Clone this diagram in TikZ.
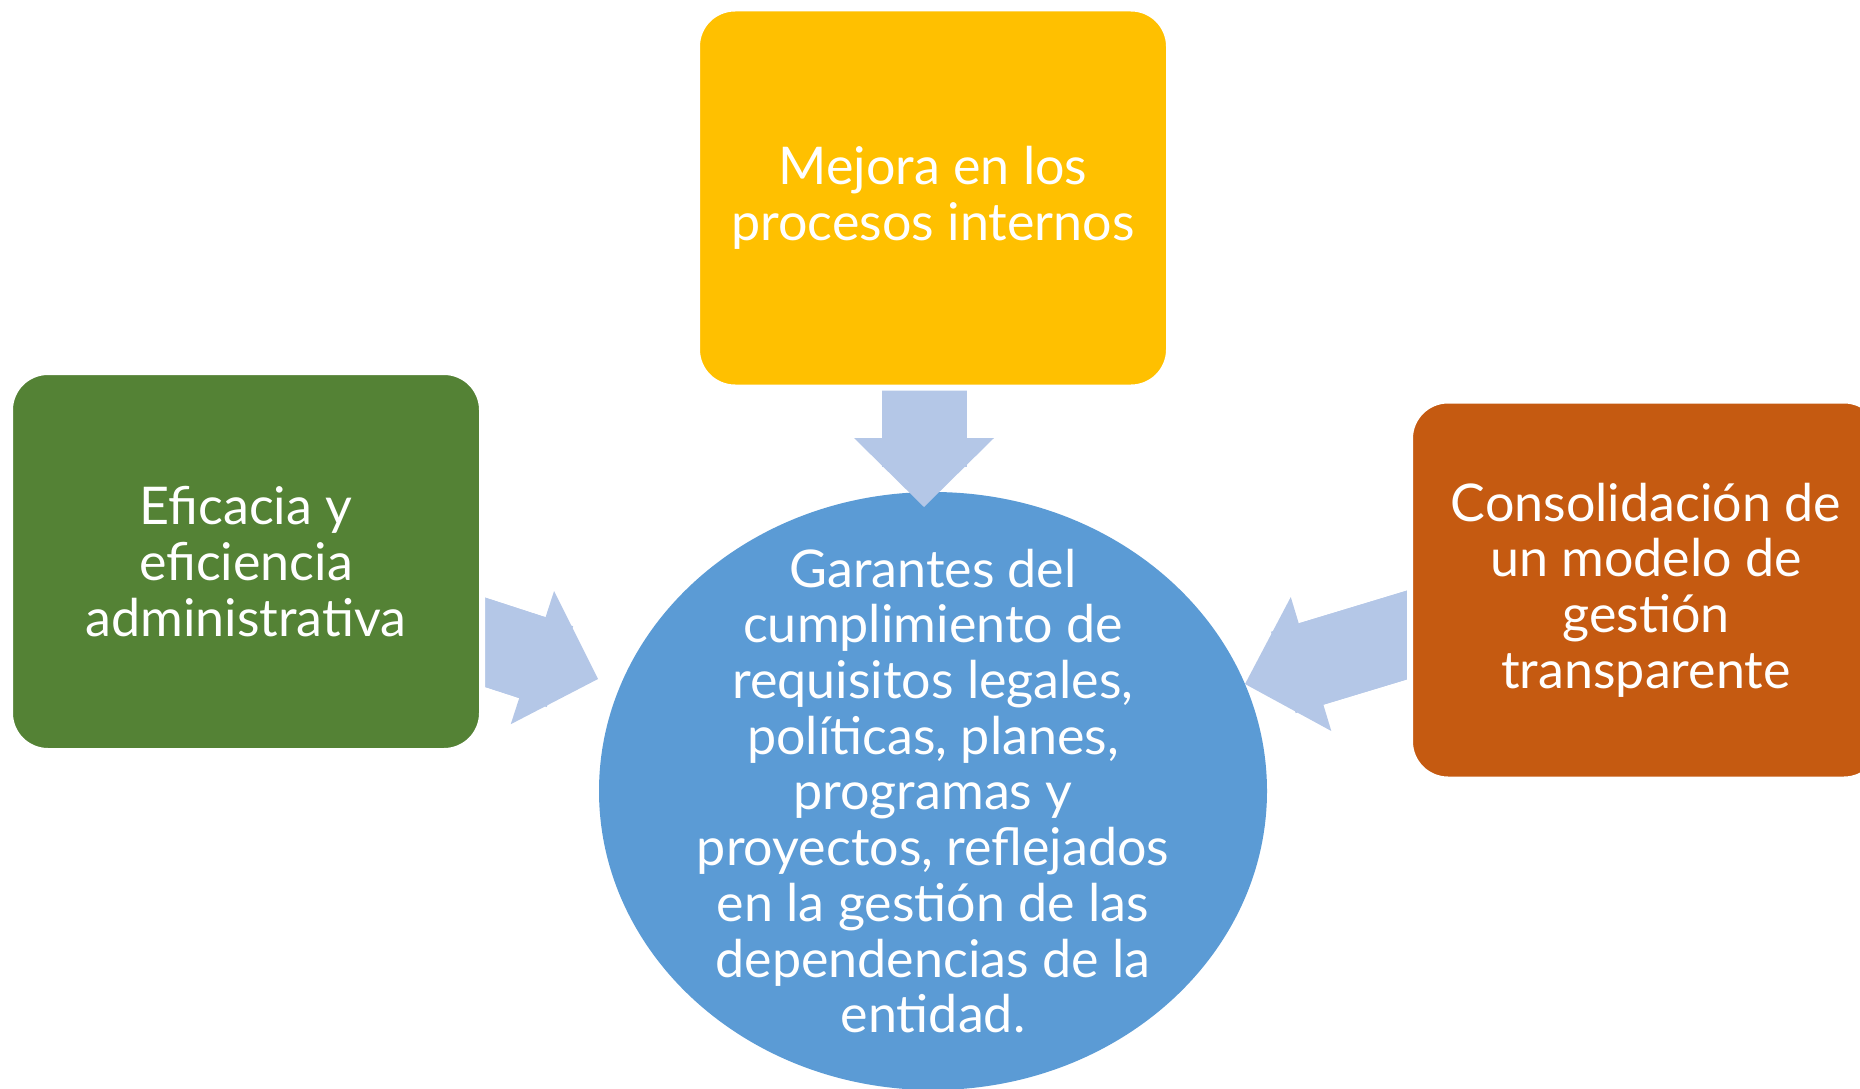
\documentclass[tikz,border=0pt]{standalone}
\usepackage{fontspec}
\setmainfont{Lato}
\usepackage{tikz}
\usetikzlibrary{arrows.meta,shapes.geometric,positioning}
\definecolor{boxyellow}{HTML}{FFC000}
\definecolor{boxgreen}{HTML}{548235}
\definecolor{boxorange}{HTML}{C55A11}
\definecolor{goalblue}{HTML}{5B9BD5}
\definecolor{arrowblue}{HTML}{B4C7E7}
\pgfdeclarelayer{back}
\pgfsetlayers{back,main}

\begin{document}
\begin{tikzpicture}[x=1pt, y=-1pt,
        box/.style={rectangle, rounded corners=38pt, draw=white, line width=6pt,
            minimum width=472pt, minimum height=379pt, inner sep=0pt, outer sep=0pt,
            text=white, align=center, font=\fontsize{52pt}{55.7pt}\selectfont},
        goal/.style={ellipse, fill=goalblue, minimum width=668pt, minimum height=598pt,
            inner sep=0pt, outer sep=0pt},
        goaltext/.style={text=white, align=center, font=\fontsize{52pt}{55.7pt}\selectfont},
        fatarrow/.style={draw=arrowblue, line width=85pt,
            -{Triangle[width=140pt, length=69pt, line width=0pt]},
            preaction={draw=arrowblue, line width=85pt, -, shorten >=40pt}}]
        \useasboundingbox (0,0) rectangle (1860,1089);

        \begin{pgfonlayer}{back}
        \node[goal] (G) at (933,791) {};
        \end{pgfonlayer}
        \node[goaltext] (T) at (G.center) {Garantes del\\ cumplimiento de\\ requisitos legales,\\
            políticas, planes,\\ programas y\\ proyectos, reflejados\\ en la gestión de las\\
            dependencias de la\\ entidad.};
        \node[box, fill=boxyellow] (M) at (933,198) {Mejora en los\\ procesos internos};
        \node[box, fill=boxgreen] (E) at (246,561.5) {Eficacia y\\ eficiencia\\ administrativa};
        \node[box, fill=boxorange] (C) at (1646,590) {Consolidación de\\ un modelo de\\ gestión\\ transparente};

        \begin{pgfonlayer}{back}
        \path ([xshift=-9pt, yshift=10pt]M.south) edge[fatarrow] ([xshift=-9pt, yshift=-15pt]G.north)
              ([xshift=-30pt, yshift=-70pt]E.east) edge[fatarrow] ([xshift=-1pt, yshift=112pt]G.west)
              ([xshift=30pt, yshift=-35pt]C.west) edge[fatarrow] ([xshift=-22pt, yshift=107pt]G.east);
        \end{pgfonlayer}
    \end{tikzpicture}
\end{document}
